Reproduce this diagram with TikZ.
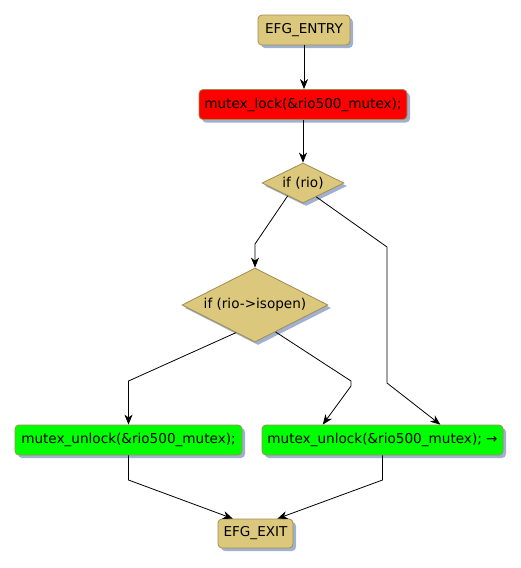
\documentclass[tikz,border=0pt]{standalone}
\usepackage{fontspec}
\setmainfont{DejaVu Sans}
\usetikzlibrary{shapes.geometric,arrows.meta,shadows,calc}
\definecolor{efgtan}{RGB}{220,200,125}
\definecolor{efgborder}{RGB}{160,140,80}
\definecolor{efgshadow}{RGB}{160,176,208}
\begin{document}
\begin{tikzpicture}[x=1pt,y=-1pt,
  font=\fontsize{13.6}{16}\selectfont,
  efgshade/.style={drop shadow={shadow xshift=3pt, shadow yshift=-3pt, fill=efgshadow, opacity=1}},
  box/.style={rectangle, rounded corners=4pt, draw=efgborder, line width=0.8pt,
    inner sep=0pt, minimum height=30pt, efgshade},
  dia/.style={diamond, aspect=2, draw=efgborder, line width=0.8pt, fill=efgtan,
    inner sep=0pt, efgshade},
  conn/.style={draw=black, line width=0.8pt, -{Stealth[length=10pt,width=8pt,inset=3pt]}}]
\useasboundingbox (0,0) rectangle (521,568);
\node[box, fill=efgtan, minimum width=92pt] (entry) at (304,30) {EFG\_ENTRY};
\node[box, fill=red, minimum width=208pt] (lock) at (303,104.5) {mutex\_lock(\&rio500\_mutex);};
\node[dia, minimum width=82pt, minimum height=40pt] (rio) at (303,183) {if (rio)};
\node[dia, minimum width=146pt, minimum height=74pt] (open) at (255,305) {if (rio->isopen)};
\node[box, fill=green, minimum width=227pt] (ul) at (128.5,440) {mutex\_unlock(\&rio500\_mutex);};
\node[box, fill=green, minimum width=241pt] (ur) at (382.5,440) {mutex\_unlock(\&rio500\_mutex); →};
\node[box, fill=efgtan, minimum width=75pt, minimum height=29pt] (exit) at (255.5,533.5) {EFG\_EXIT};
\coordinate (a1) at (255,244);
\coordinate (b1) at (387,247);
\coordinate (b2) at (387,383);
\coordinate (c1) at (128.5,381);
\coordinate (d1) at (351,381);
\coordinate (d2) at (351,386);
\coordinate (e1) at (128.5,480);
\coordinate (f1) at (382.5,480);
\draw[conn] (entry.south) -- (entry.south |- lock.north);
\draw[conn] (lock.south) -- (lock.south |- rio.north);
\draw[conn] ($(rio.south)!0.37!(rio.west)$) -- (a1) -- (a1 |- open.north);
\draw[conn] ($(rio.south)!0.32!(rio.east)$) -- (b1) -- (b2) -- ($(ur.north west)!0.739!(ur.north east)$);
\draw[conn] ($(open.south)!0.26!(open.west)$) -- (c1) -- (ul.north);
\draw[conn] ($(open.south)!0.28!(open.east)$) -- (d1) -- (d2) -- ($(ur.north west)!0.253!(ur.north east)$);
\draw[conn] (ul.south) -- (e1) -- ($(exit.north west)!0.2!(exit.north east)$);
\draw[conn] (ur.south) -- (f1) -- ($(exit.north west)!0.79!(exit.north east)$);
\end{tikzpicture}
\end{document}
